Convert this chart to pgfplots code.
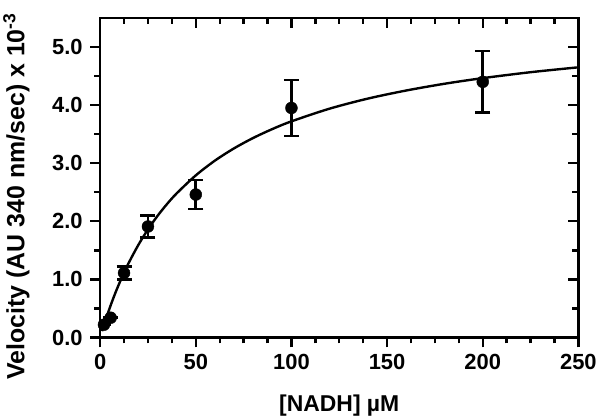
\documentclass[border=0pt]{standalone}
\usepackage{pgfplots}
\pgfplotsset{compat=1.18}
\usepackage{fontspec}
\setmainfont{Liberation Sans}

\pgfplotsset{
  frame/.style={width=480pt,height=320.7pt,scale only axis,
    xmin=0,xmax=250,ymin=0,ymax=5.5,
    xtick={0,50,...,250},ytick={0,1,...,5},
    minor x tick num=3,minor y tick num=1,
    axis line style={line width=2.6pt},
    every tick/.style={line width=2.4pt,black},
    major tick length=10pt,minor tick length=6pt},
}

\begin{document}
\begin{tikzpicture}
\begin{axis}[frame,name=main,
  tick align=outside,xtick pos=bottom,ytick pos=left,
  tick label style={font=\fontsize{22}{24}\selectfont\bfseries},
  xticklabel style={yshift=-3pt},
  yticklabel style={xshift=-4pt},
  /pgf/number format/assume math mode=true,
  yticklabel={\pgfmathprintnumber[fixed,fixed zerofill,precision=1]{\tick}},
  xticklabel={\pgfmathprintnumber[fixed,precision=0]{\tick}},
  xlabel={[NADH] \textmu M},
  ylabel={Velocity (AU 340 nm/sec) x 10\textsuperscript{-3}},
  xlabel style={font=\fontsize{23}{25}\selectfont\bfseries,
    at={(axis description cs:0.5,-0.168)},anchor=north},
  ylabel style={font=\fontsize{25}{27}\selectfont\bfseries,
    at={(axis description cs:-0.14,0.442)},anchor=south,rotate=0}]
% fitted curve
\addplot[black,line width=2.4pt,smooth] coordinates {
(1,0.109) (2,0.215) (3,0.316) (4,0.413) (6,0.598) (8,0.770) (10,0.930)
(12.5,1.116) (15,1.288) (20,1.594) (25,1.860) (30,2.093) (35,2.298)
(40,2.480) (50,2.790) (60,3.044) (70,3.255) (80,3.434) (90,3.587)
(100,3.720) (120,3.939) (140,4.112) (160,4.251) (180,4.367) (200,4.464)
(225,4.566) (250,4.650)};
% measured points with error bars
\addplot[black,only marks,mark=*,mark size=6pt,
  error bars/.cd,y dir=both,y explicit,
  error bar style={line width=2.6pt},
  error mark=|,
  error mark options={black,mark size=7.5pt,line width=2.6pt}]
coordinates {
(2,0.22) +- (0,0)
(5.5,0.34) +- (0,0)
(12.5,1.11) +- (0,0.11)
(25,1.91) +- (0,0.19)
(50,2.46) +- (0,0.25)
(100,3.95) +- (0,0.48)
(200,4.40) +- (0,0.53)};
\end{axis}
\begin{axis}[frame,
  tick align=inside,xtick pos=top,ytick pos=right,
  xticklabels={},yticklabels={}]
\end{axis}
% room above the frame, as in the reference
\path ([yshift=18pt]main.north);
\end{tikzpicture}
\end{document}
